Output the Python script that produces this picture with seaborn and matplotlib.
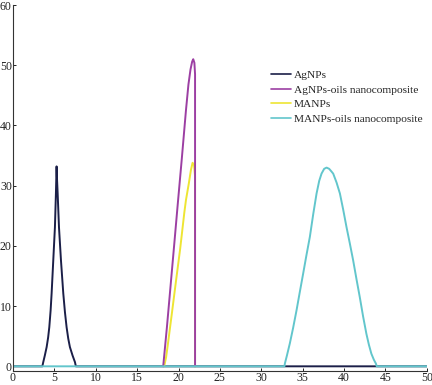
import matplotlib
matplotlib.use("Agg")
import matplotlib.pyplot as plt
import seaborn as sns
import pandas as pd

sns.set_theme(style="white")
plt.rcParams['font.family'] = ['Liberation Serif', 'DejaVu Serif']

series_names = ["AgNPs", "AgNPs-oils nanocomposite", "MANPs", "MANPs-oils nanocomposite"]
colors = ["#1b1f48", "#9c3fa3", "#eee533", "#62c6cc"]

agnps_x = [0, 3.55, 3.66, 3.85, 4.07, 4.25, 4.39, 4.55, 4.67, 4.87, 5.07, 5.19, 5.24, 5.27,
           5.31, 5.4, 5.56, 5.8, 6.08, 6.28, 6.48, 6.68, 6.88, 7.2, 7.49, 7.6, 50]
agnps_y = [0, 0, 0.7, 1.8, 3.2, 4.8, 6.5, 9.3, 12.1, 17.6, 23.1, 28.7, 31.5, 33.2,
           31.5, 28.7, 23.1, 17.6, 12.1, 9.0, 6.5, 4.6, 3.2, 1.8, 0.7, 0, 0]

agoil_x = [18.15, 18.6, 19.05, 19.5, 19.9, 20.4, 20.9, 21.2, 21.45, 21.65, 21.78, 21.92, 22.0, 22.0]
agoil_y = [0, 6.5, 13.5, 20.5, 26.8, 34.5, 42.5, 46.8, 49.3, 50.6, 51.0, 50.4, 48.5, 0]

manps_x = [18.27, 18.5, 18.7, 19.2, 19.7, 20.2, 20.7, 20.9, 21.25, 21.5, 21.7, 21.88, 22.0, 22.0]
manps_y = [0, 1.5, 3.5, 8.8, 14.2, 19.5, 25.5, 27.6, 30.4, 32.6, 33.8, 33.4, 31.5, 0]

maoil_x = [0, 32.8, 32.85, 33.1, 33.45, 33.85, 34.26, 34.65, 35.06, 35.45, 35.87, 36.28, 36.68,
           37.0, 37.28, 37.6, 37.89, 38.2, 38.45, 38.69, 39.1, 39.5, 39.9, 40.3, 40.7, 41.1,
           41.5, 41.9, 42.3, 42.7, 43.0, 43.3, 43.6, 43.85, 43.95, 50]
maoil_y = [0, 0, 0.45, 1.8, 3.8, 6.4, 9.3, 12.3, 15.4, 18.4, 21.5, 25.3, 28.7,
           30.8, 32.0, 32.8, 33.0, 32.8, 32.4, 32.0, 30.5, 28.7, 26.0, 23.1, 20.4, 17.6,
           14.5, 11.5, 8.3, 5.4, 3.6, 2.1, 1.1, 0.45, 0, 0]

xs = [agnps_x, agoil_x, manps_x, maoil_x]
ys = [agnps_y, agoil_y, manps_y, maoil_y]
zorders = [2.0, 2.3, 2.2, 2.4]

fig = plt.figure(figsize=(4.32, 3.85), dpi=100)
ax = fig.add_axes([0.030, 0.036, 0.958, 0.951])

for name, c, x, y, z in zip(series_names, colors, xs, ys, zorders):
    df = pd.DataFrame({"x": x, "y": y})
    sns.lineplot(data=df, x="x", y="y", ax=ax, color=c, label=name,
                 linewidth=1.4, sort=False, estimator=None, zorder=z)

ax.set_xlim(0, 50)
ax.set_ylim(-0.8, 60)
ax.set_xticks(range(0, 51, 5))
ax.set_yticks(range(0, 61, 10))
ax.set_xlabel("")
ax.set_ylabel("")
for s in ["top", "right"]:
    ax.spines[s].set_visible(False)
for s in ["left", "bottom"]:
    ax.spines[s].set_color("#333333")
    ax.spines[s].set_linewidth(0.8)
ax.tick_params(axis="both", which="major", labelsize=8.5, length=2.5, width=0.7,
               direction="in", colors="#222222", pad=0.8)
ax.tick_params(bottom=True, left=True)

leg = ax.legend(loc="upper left", bbox_to_anchor=(0.613, 0.835), frameon=False,
                fontsize=8.2, handlelength=1.7, handletextpad=0.3, labelspacing=0.42,
                borderaxespad=0)
for line in leg.get_lines():
    line.set_linewidth(1.2)

fig.savefig("out.png", dpi=100)
